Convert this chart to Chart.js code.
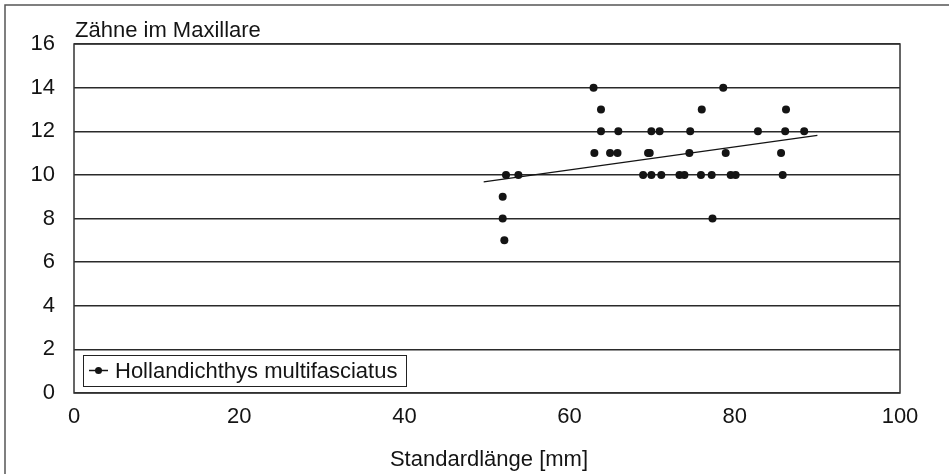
<!DOCTYPE html>
<html>
<head>
<meta charset="utf-8">
<title>Zähne im Maxillare</title>
<script src="https://cdn.jsdelivr.net/npm/chart.js@4/dist/chart.umd.min.js"></script>
<style>
  html, body { margin: 0; padding: 0; background: #fff; }
</style>
</head>
<body>
<canvas id="chart" width="949" height="474"></canvas>
<script>
// Standardlänge (mm) and tooth count, one entry per fish
const lengths = [
  62.9, 78.6,
  63.8, 76.0, 86.2,
  63.8, 65.9, 69.9, 70.9, 74.6, 82.8, 86.1, 88.4,
  63.0, 64.9, 65.8, 69.5, 69.7, 74.5, 78.9, 85.6,
  52.3, 53.8, 68.9, 69.9, 71.1, 73.3, 73.9, 75.9, 77.2, 79.5, 80.1, 85.8,
  51.9,
  51.9, 77.3,
  52.1
]
const teeth = [
  14, 14,
  13, 13, 13,
  12, 12, 12, 12, 12, 12, 12, 12,
  11, 11, 11, 11, 11, 11, 11, 11,
  10, 10, 10, 10, 10, 10, 10, 10, 10, 10, 10, 10,
  9,
  8, 8,
  7
]

// linear trend line, endpoints as drawn in the original
const trendX = [49.6, 90.0]
const trendY = [9.68, 11.81]

const xTicks = [0, 20, 40, 60, 80, 100]
const yTicks = [0, 2, 4, 6, 8, 10, 12, 14, 16]

const seriesName = 'Hollandichthys multifasciatus'
const yTitle = 'Zähne im Maxillare'
const xTitle = 'Standardlänge [mm]'

const FONT = '"Liberation Sans", Arial, Helvetica, sans-serif'
const INK = '#141414'

Chart.defaults.font.family = FONT
Chart.defaults.color = INK

const decorations = {
  id: 'decorations',
  beforeDraw(chart) {
    const ctx = chart.ctx
    ctx.save()
    ctx.fillStyle = '#fff'
    ctx.fillRect(0, 0, chart.width, chart.height)
    ctx.restore()
  },
  afterDraw(chart) {
    const ctx = chart.ctx
    const ca = chart.chartArea
    ctx.save()

    // outer frame (left and top edges visible)
    ctx.strokeStyle = '#555'
    ctx.lineWidth = 1.5
    ctx.beginPath()
    ctx.moveTo(5, chart.height)
    ctx.lineTo(5, 5)
    ctx.lineTo(chart.width, 5)
    ctx.stroke()

    // plot frame
    ctx.strokeStyle = '#333'
    ctx.lineWidth = 1.5
    ctx.strokeRect(ca.left, ca.top, ca.right - ca.left, ca.bottom - ca.top)

    // titles
    ctx.fillStyle = INK
    ctx.font = '22px ' + FONT
    ctx.textAlign = 'left'
    ctx.textBaseline = 'alphabetic'
    ctx.fillText(yTitle, ca.left + 1, 37)
    ctx.textAlign = 'center'
    ctx.fillText(xTitle, (ca.left + ca.right) / 2 + 2, 466)

    // legend box in lower left of plot
    const lx = ca.left + 9, ly = ca.bottom - 38, lw = 323, lh = 31
    ctx.fillStyle = '#fff'
    ctx.fillRect(lx, ly, lw, lh)
    ctx.strokeStyle = '#222'
    ctx.lineWidth = 1
    ctx.strokeRect(lx + 0.5, ly + 0.5, lw, lh)
    const my = ly + lh / 2
    ctx.strokeStyle = INK
    ctx.lineWidth = 1.5
    ctx.beginPath()
    ctx.moveTo(lx + 6, my)
    ctx.lineTo(lx + 25, my)
    ctx.stroke()
    ctx.fillStyle = INK
    ctx.beginPath()
    ctx.arc(lx + 15.5, my, 3.5, 0, Math.PI * 2)
    ctx.fill()
    ctx.font = '22px ' + FONT
    ctx.textAlign = 'left'
    ctx.fillText(seriesName, lx + 32, ly + 23)

    ctx.restore()
  }
}

new Chart(document.getElementById('chart'), {
  type: 'scatter',
  data: {
    datasets: [
      {
        label: 'Trend',
        type: 'line',
        data: trendX.map((x, i) => ({ x: x, y: trendY[i] })),
        borderColor: INK,
        borderWidth: 1.3,
        pointRadius: 0,
        fill: false,
        order: 2
      },
      {
        label: seriesName,
        data: lengths.map((x, i) => ({ x: x, y: teeth[i] })),
        backgroundColor: INK,
        borderColor: INK,
        pointRadius: 4,
        pointBorderWidth: 0,
        order: 1
      }
    ]
  },
  options: {
    responsive: false,
    animation: false,
    layout: {
      padding: { top: 44, right: 49, left: 0, bottom: 0 }
    },
    plugins: {
      legend: { display: false },
      tooltip: { enabled: false }
    },
    scales: {
      x: {
        type: 'linear',
        min: 0,
        max: 100,
        afterBuildTicks: (scale) => { scale.ticks = xTicks.map(v => ({ value: v })) },
        afterFit: (scale) => { scale.height = 81 },
        ticks: {
          font: { size: 22 },
          color: INK,
          padding: 11,
          maxRotation: 0
        },
        grid: { display: false, drawTicks: false },
        border: { display: false }
      },
      y: {
        min: 0,
        max: 16,
        afterBuildTicks: (scale) => { scale.ticks = yTicks.map(v => ({ value: v })) },
        afterFit: (scale) => { scale.width = 74 },
        ticks: {
          font: { size: 22 },
          color: INK,
          padding: 19
        },
        grid: { color: '#2a2a2a', lineWidth: 1.5, drawTicks: false },
        border: { display: false }
      }
    }
  },
  plugins: [decorations]
})
</script>
</body>
</html>
